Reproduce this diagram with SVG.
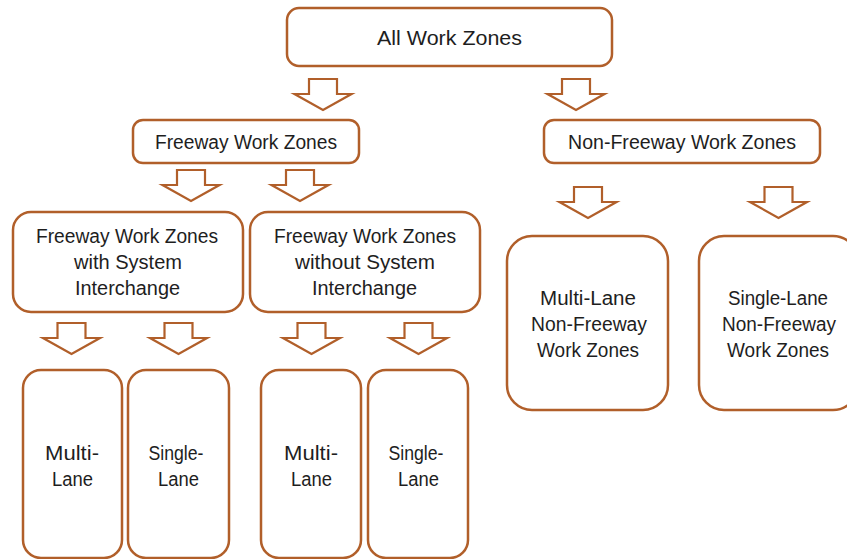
<svg xmlns="http://www.w3.org/2000/svg" xmlns:xlink="http://www.w3.org/1999/xlink" width="847" height="559" viewBox="0 0 847 559">
  <style>
    .box { fill: #ffffff; stroke: #B15F2A; stroke-width: 2.5; }
    .lbl { font-family: "Liberation Sans", Arial, sans-serif; font-size: 20px; fill: #1e1e1e; text-anchor: middle; }
    .arr { fill: #ffffff; stroke: #B15F2A; stroke-width: 2.2; stroke-linejoin: miter; }
  </style>
  <defs>
    <!-- block arrow, origin at top centre of the shaft -->
    <path id="blockArrow" class="arr" d="M -14 0 H 14 V 15 H 28.5 L 0 31 L -28.5 15 H -14 Z"/>
  </defs>
  <rect width="847" height="559" fill="#ffffff"/>

  <g id="connectors">
    <use xlink:href="#blockArrow" href="#blockArrow" x="323" y="79"/>
    <use xlink:href="#blockArrow" href="#blockArrow" x="576" y="79"/>
    <use xlink:href="#blockArrow" href="#blockArrow" x="191" y="170"/>
    <use xlink:href="#blockArrow" href="#blockArrow" x="300" y="170"/>
    <use xlink:href="#blockArrow" href="#blockArrow" x="588" y="187"/>
    <use xlink:href="#blockArrow" href="#blockArrow" x="778.5" y="187"/>
    <use xlink:href="#blockArrow" href="#blockArrow" x="71.5" y="323"/>
    <use xlink:href="#blockArrow" href="#blockArrow" x="178.5" y="323"/>
    <use xlink:href="#blockArrow" href="#blockArrow" x="311.5" y="323"/>
    <use xlink:href="#blockArrow" href="#blockArrow" x="418.5" y="323"/>
  </g>

  <g id="all-work-zones">
    <rect class="box" x="287" y="8" width="325" height="58" rx="12"/>
    <text class="lbl" x="449.5" y="45" textLength="145" lengthAdjust="spacingAndGlyphs">All Work Zones</text>
  </g>

  <g id="freeway">
    <rect class="box" x="133" y="120" width="226" height="43" rx="10"/>
    <text class="lbl" x="246" y="149" textLength="182" lengthAdjust="spacingAndGlyphs">Freeway Work Zones</text>
  </g>

  <g id="non-freeway">
    <rect class="box" x="544" y="120" width="276" height="43" rx="10"/>
    <text class="lbl" x="682" y="149" textLength="228" lengthAdjust="spacingAndGlyphs">Non-Freeway Work Zones</text>
  </g>

  <g id="freeway-with-interchange">
    <rect class="box" x="13" y="212" width="230" height="100" rx="18"/>
    <text class="lbl" x="127" y="243" textLength="182" lengthAdjust="spacingAndGlyphs">Freeway Work Zones</text>
    <text class="lbl" x="128" y="269" textLength="108" lengthAdjust="spacingAndGlyphs">with System</text>
    <text class="lbl" x="127.5" y="295" textLength="105" lengthAdjust="spacingAndGlyphs">Interchange</text>
  </g>

  <g id="freeway-without-interchange">
    <rect class="box" x="250" y="212" width="230" height="100" rx="18"/>
    <text class="lbl" x="365" y="243" textLength="182" lengthAdjust="spacingAndGlyphs">Freeway Work Zones</text>
    <text class="lbl" x="365" y="269" textLength="140" lengthAdjust="spacingAndGlyphs">without System</text>
    <text class="lbl" x="364.5" y="295" textLength="105" lengthAdjust="spacingAndGlyphs">Interchange</text>
  </g>

  <g id="multi-lane-non-freeway">
    <rect class="box" x="507" y="236" width="161" height="174" rx="25"/>
    <text class="lbl" x="588" y="305" textLength="96" lengthAdjust="spacingAndGlyphs">Multi-Lane</text>
    <text class="lbl" x="589" y="331" textLength="116" lengthAdjust="spacingAndGlyphs">Non-Freeway</text>
    <text class="lbl" x="588" y="357" textLength="102" lengthAdjust="spacingAndGlyphs">Work Zones</text>
  </g>

  <g id="single-lane-non-freeway">
    <rect class="box" x="699" y="236" width="159" height="174" rx="25"/>
    <text class="lbl" x="778" y="305" textLength="100" lengthAdjust="spacingAndGlyphs">Single-Lane</text>
    <text class="lbl" x="779" y="331" textLength="114" lengthAdjust="spacingAndGlyphs">Non-Freeway</text>
    <text class="lbl" x="778" y="357" textLength="102" lengthAdjust="spacingAndGlyphs">Work Zones</text>
  </g>

  <g id="with-interchange-multi-lane">
    <rect class="box" x="23" y="370" width="99" height="188" rx="18"/>
    <text class="lbl" x="72" y="460" textLength="54" lengthAdjust="spacingAndGlyphs">Multi-</text>
    <text class="lbl" x="72.5" y="486" textLength="41" lengthAdjust="spacingAndGlyphs">Lane</text>
  </g>

  <g id="with-interchange-single-lane">
    <rect class="box" x="128" y="370" width="101" height="188" rx="18"/>
    <text class="lbl" x="176" y="460" textLength="55" lengthAdjust="spacingAndGlyphs">Single-</text>
    <text class="lbl" x="178.5" y="486" textLength="41" lengthAdjust="spacingAndGlyphs">Lane</text>
  </g>

  <g id="without-interchange-multi-lane">
    <rect class="box" x="261" y="370" width="100" height="188" rx="18"/>
    <text class="lbl" x="311" y="460" textLength="54" lengthAdjust="spacingAndGlyphs">Multi-</text>
    <text class="lbl" x="311.5" y="486" textLength="41" lengthAdjust="spacingAndGlyphs">Lane</text>
  </g>

  <g id="without-interchange-single-lane">
    <rect class="box" x="368" y="370" width="100" height="188" rx="18"/>
    <text class="lbl" x="416" y="460" textLength="55" lengthAdjust="spacingAndGlyphs">Single-</text>
    <text class="lbl" x="418.5" y="486" textLength="41" lengthAdjust="spacingAndGlyphs">Lane</text>
  </g>
</svg>
